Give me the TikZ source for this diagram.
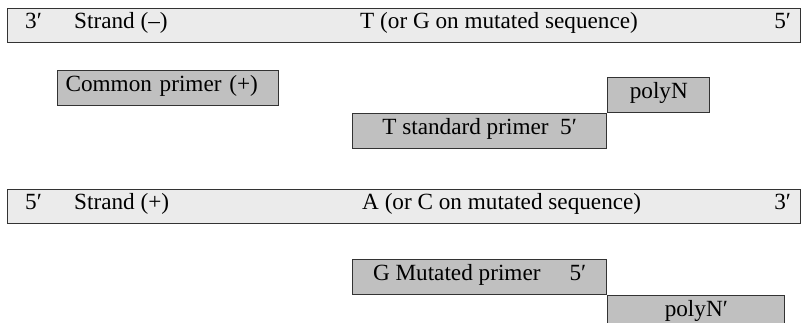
\documentclass[tikz,border=0pt]{standalone}
\usepackage{fontspec}
\setmainfont{Liberation Serif}
\usetikzlibrary{positioning}

\definecolor{strandgray}{RGB}{235,235,235}
\definecolor{primergray}{RGB}{192,192,192}

\begin{document}
\begin{tikzpicture}[x=1pt,y=-1pt,
  every node/.style={font=\fontsize{23.2}{28}\selectfont},
  strand/.style={draw=black!80,fill=strandgray,line width=1.2pt,
    minimum width=793pt,minimum height=34pt,inner sep=0pt,anchor=north west},
  primer/.style={draw=black!80,fill=primergray,line width=1.2pt,
    minimum height=35pt,inner sep=0pt,text height=0.66em,text depth=0pt},
  tag/.style={inner sep=0pt,text height=0.66em,text depth=0pt,anchor=west}]
\useasboundingbox (0,0) rectangle (802,323);

% strand (-) with its primers
\node[strand] (minus) at (7,8) {};
\node[tag, right=18pt of minus.west] (m3) {3′};
\node[tag, right=67pt of minus.west] (mname) {Strand (--)};
\node[tag] (mbase) at (360,25) {T (or G on mutated sequence)};
\node[tag, left=10pt of minus.east] (m5) {5′};

\node[primer, minimum width=221pt, text width=205pt, align=left,
  anchor=north west] (common) at (57,70) {Common primer (+)};
\node[primer, minimum width=254pt, anchor=north west] (tstd) at (352,113)
  {T standard primer\enspace 5′};
\node[primer, minimum width=102pt, anchor=south west] (polyn)
  at (tstd.north east) {polyN};

% strand (+) with the mutated primer
\node[strand] (plus) at (7,189) {};
\node[tag, right=18pt of plus.west] (p5) {5′};
\node[tag, right=67pt of plus.west] (pname) {Strand (+)};
\node[tag] (pbase) at (362,206) {A (or C on mutated sequence)};
\node[tag, left=10pt of plus.east] (p3) {3′};

\node[primer, minimum width=254pt, anchor=north west] (gmut) at (352,259)
  {G Mutated primer\quad\ 5′};
\node[primer, minimum width=177pt, anchor=north west] (polynp)
  at (gmut.south east) {polyN′};
\end{tikzpicture}
\end{document}
